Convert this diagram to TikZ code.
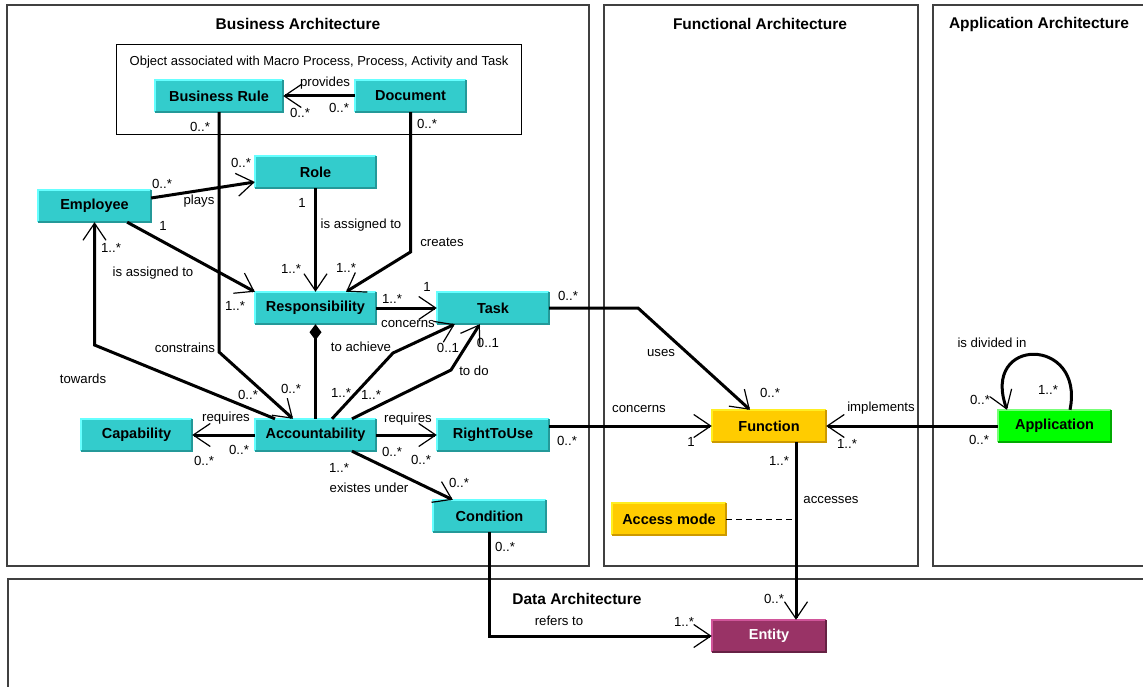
\documentclass[tikz,border=0pt]{standalone}
\usepackage{fontspec}
\setmainfont{Liberation Sans}
\usetikzlibrary{arrows.meta,calc}
\definecolor{cyanf}{HTML}{33CCCC}
\definecolor{cyanl}{HTML}{66FFFF}
\definecolor{cyand}{HTML}{249999}
\definecolor{yelf}{HTML}{FFCC00}
\definecolor{yell}{HTML}{FFEE22}
\definecolor{yeld}{HTML}{CC9900}
\definecolor{grnf}{HTML}{00FF00}
\definecolor{grnl}{HTML}{77FF77}
\definecolor{grnd}{HTML}{00AA00}
\definecolor{entf}{HTML}{993366}
\definecolor{entl}{HTML}{D0559A}
\definecolor{entd}{HTML}{662244}
\definecolor{framec}{HTML}{404040}
\begin{document}
\begin{tikzpicture}[x=1pt,y=-1pt,
  cls/.style={rectangle, inner sep=0pt, minimum height=32pt, font=\fontsize{14.5}{16}\selectfont\bfseries},
  cyanbox/.style={cls, fill=cyanf},
  yelbox/.style={cls, fill=yelf},
  grnbox/.style={cls, fill=grnf},
  entbox/.style={cls, fill=entf, text=white},
  lbl/.style={font=\fontsize{13.2}{15}\selectfont, inner sep=0pt},
  ttl/.style={font=\fontsize{15.5}{18}\selectfont\bfseries, inner sep=0pt},
  frm/.style={draw=framec, line width=1.3pt},
  assoc/.style={line width=3pt, -{Straight Barb[length=17pt,width=23pt,line width=1.2pt]}},
]
\useasboundingbox (0,0) rectangle (1143,687);

% containers
\draw[frm] (7,5) rectangle (589,566);
\draw[frm] (604,5) rectangle (918,566);
\draw[frm] (1143,5) -- (933,5) -- (933,566) -- (1143,566);
\draw[frm] (1143,579) -- (8,579) -- (8,687);
\draw[line width=1pt] (116,45) rectangle (521,135);

\node[ttl] (tbus) at (298,24) {Business Architecture};
\node[ttl] (tfun) at (760,24) {Functional Architecture};
\node[ttl] (tapp) at (1039,24) {Application Architecture};
\node[ttl] (tdat) at (577,599) {Data Architecture};
\node[lbl, font=\fontsize{13}{15}\selectfont] (tobj) at (319,62) {Object associated with Macro Process, Process, Activity and Task};

% classes
\node[cyanbox, minimum width=128pt] (br) at (219,96) {Business Rule};
\node[cyanbox, minimum width=111pt] (doc) at (410.5,96) {Document};
\node[cyanbox, minimum width=121pt] (role) at (315.5,172) {Role};
\node[cyanbox, minimum width=113pt] (emp) at (94.5,206) {Employee};
\node[cyanbox, minimum width=121pt] (resp) at (315.5,308) {Responsibility};
\node[cyanbox, minimum width=112pt] (task) at (493,308) {Task};
\node[cyanbox, minimum width=111pt] (cap) at (136.5,435) {Capability};
\node[cyanbox, minimum width=121pt] (acc) at (315.5,435) {Accountability};
\node[cyanbox, minimum width=112pt] (rtu) at (493,435) {RightToUse};
\node[cyanbox, minimum width=113pt] (cond) at (489.5,516) {Condition};
\node[yelbox, minimum width=114pt] (func) at (769,426) {Function};
\node[yelbox, minimum width=114pt] (am) at (669,519) {Access mode};
\node[grnbox, minimum width=113pt] (app) at (1054.5,426) {Application};
\node[entbox, minimum width=114pt] (ent) at (769,636) {Entity};

% 3D borders
\foreach \n/\l/\d in {br/cyanl/cyand, doc/cyanl/cyand, role/cyanl/cyand, emp/cyanl/cyand,
  resp/cyanl/cyand, task/cyanl/cyand, cap/cyanl/cyand, acc/cyanl/cyand, rtu/cyanl/cyand,
  cond/cyanl/cyand, func/yell/yeld, am/yell/yeld, app/grnl/grnd, ent/entl/entd} {
  \draw[color=\l, line width=1.6pt] (\n.south west) -- (\n.north west) -- (\n.north east);
  \draw[color=\d, line width=1.6pt] (\n.north east) -- (\n.south east) -- (\n.south west);
}

% connectors
\draw[assoc] (doc.west) -- (br.east);
\draw[assoc] (br.south) -- (219,352) -- ([xshift=-22.5pt]acc.north);
\draw[assoc] (doc.south) -- (410.5,252) -- ([xshift=30.5pt]resp.north);
\draw[assoc] ([yshift=8pt]emp.east) -- ([yshift=-10pt]role.west);
\draw[assoc] (role.south) -- (resp.north);
\draw[assoc] ([xshift=-24pt]emp.south east) -- (resp.north west);
\draw[assoc] ([xshift=-40.5pt]acc.north) -- (94.5,345) -- (emp.south);
\draw[line width=3pt, -{Diamond[length=16pt,width=12pt]}] (acc.north) -- (resp.south);
\draw[assoc] (resp.east) -- (task.west);
\draw[assoc] ([xshift=16.5pt]acc.north) -- (393,353) -- ([xshift=18pt]task.south west);
\draw[assoc] ([xshift=36.5pt]acc.north) -- (451,370) -- ([xshift=43pt]task.south west);
\draw[assoc] (acc.west) -- (cap.east);
\draw[assoc] (acc.east) -- (rtu.west);
\draw[assoc] ([xshift=36.5pt]acc.south) -- ([xshift=20pt]cond.north west);
\draw[assoc] (task.east) -- (638,308) -- ([xshift=-19pt]func.north);
\draw[assoc] ([yshift=9pt]rtu.east) -- (func.west);
\draw[assoc] (app.west) -- (func.east);
\draw[assoc] ([xshift=15.5pt]app.north) .. controls (1085,336) and (980,336) .. ([xshift=-47.5pt]app.north);
\draw[assoc] ([xshift=27pt]func.south) -- ([xshift=27pt]ent.north);
\coordinate (acpt) at (796,519);
\draw[dashed, line width=0.9pt, dash pattern=on 6pt off 4pt] (am.east) -- (acpt);
\draw[assoc] (cond.south) |- (ent.west);

% labels
\node[lbl] (l1) at (325,83) {provides};
\node[lbl] (l2) at (300,113) {0..*};
\node[lbl] (l3) at (339,108) {0..*};
\node[lbl] (l4) at (200,127) {0..*};
\node[lbl] (l5) at (427,124) {0..*};
\node[lbl] (l6) at (241,163) {0..*};
\node[lbl] (l7) at (162,184) {0..*};
\node[lbl] (l8) at (199,201) {plays};
\node[lbl] (l9) at (302,203) {1};
\node[lbl] (l10) at (361,225) {is assigned to};
\node[lbl] (l11) at (163,226) {1};
\node[lbl] (l12) at (442,242) {creates};
\node[lbl] (l13) at (111,248) {1..*};
\node[lbl] (l14) at (153,273) {is assigned to};
\node[lbl] (l15) at (291,269) {1..*};
\node[lbl] (l16) at (346,268) {1..*};
\node[lbl] (l17) at (235,306) {1..*};
\node[lbl] (l18) at (392,299) {1..*};
\node[lbl] (l19) at (427,287) {1};
\node[lbl] (l20) at (568,296) {0..*};
\node[lbl] (l21) at (408,324) {concerns};
\node[lbl] (l22) at (185,348) {constrains};
\node[lbl] (l23) at (361,347) {to achieve};
\node[lbl] (l24) at (448,348) {0..1};
\node[lbl] (l25) at (488,343) {0..1};
\node[lbl] (l26) at (661,353) {uses};
\node[lbl] (l27) at (83,379) {towards};
\node[lbl] (l28) at (474,371) {to do};
\node[lbl] (l29) at (992,343) {is divided in};
\node[lbl] (l30) at (770,393) {0..*};
\node[lbl] (l31) at (1048,390) {1..*};
\node[lbl] (l32) at (248,395) {0..*};
\node[lbl] (l33) at (291,389) {0..*};
\node[lbl] (l34) at (341,393) {1..*};
\node[lbl] (l35) at (371,395) {1..*};
\node[lbl] (l36) at (980,400) {0..*};
\node[lbl] (l37) at (639,409) {concerns};
\node[lbl] (l38) at (881,408) {implements};
\node[lbl] (l39) at (226,418) {requires};
\node[lbl] (l40) at (408,419) {requires};
\node[lbl] (l41) at (239,450) {0..*};
\node[lbl] (l42) at (204,461) {0..*};
\node[lbl] (l43) at (392,452) {0..*};
\node[lbl] (l44) at (421,460) {0..*};
\node[lbl] (l45) at (567,441) {0..*};
\node[lbl] (l46) at (691,442) {1};
\node[lbl] (l47) at (847,444) {1..*};
\node[lbl] (l48) at (979,440) {0..*};
\node[lbl] (l49) at (339,468) {1..*};
\node[lbl] (l50) at (369,488) {existes under};
\node[lbl] (l51) at (459,483) {0..*};
\node[lbl] (l52) at (779,461) {1..*};
\node[lbl] (l53) at (831,500) {accesses};
\node[lbl] (l54) at (505,547) {0..*};
\node[lbl] (l55) at (774,599) {0..*};
\node[lbl] (l56) at (559,621) {refers to};
\node[lbl] (l57) at (684,622) {1..*};
\end{tikzpicture}
\end{document}
